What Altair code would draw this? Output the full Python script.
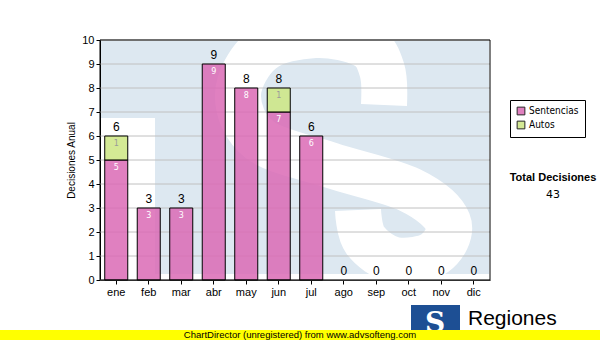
import altair as alt
import pandas as pd

# ---------------- data ----------------
months = ["ene", "feb", "mar", "abr", "may", "jun", "jul", "ago", "sep", "oct", "nov", "dic"]
sentencias = [5, 3, 3, 9, 8, 7, 6, 0, 0, 0, 0, 0]
autos = [1, 0, 0, 0, 0, 1, 0, 0, 0, 0, 0, 0]
series_names = ["Sentencias", "Autos"]
y_ticks = [0, 1, 2, 3, 4, 5, 6, 7, 8, 9, 10]
y_title = "Decisiones Anual"
total_title = "Total Decisiones"
footer_text = "ChartDirector (unregistered) from www.advsofteng.com"
logo_text = "Regiones"

# decorative watermark (plot-area pixel units: 390 x 240, origin top-left)
wm_x0 = [1, 55]
wm_x1 = [389, 389]
wm_y0 = [1, 78]
wm_y1 = [78, 234]
s_path_x = [284, 282, 265, 215, 162, 138, 160, 230, 310, 348, 335, 295, 265, 258]
s_path_y = [65, 30, 5, -5, 10, 55, 100, 125, 150, 182, 213, 220, 200, 170]

PINK = "#db6ab5"
GREEN = "#cde683"
W, H = 390, 240

# ---------------- tables ----------------
rows = []
for i, m in enumerate(months):
    rows.append({"mes": m, "serie": series_names[0], "valor": sentencias[i], "orden": 0,
                 "tope": sentencias[i]})
    rows.append({"mes": m, "serie": series_names[1], "valor": autos[i], "orden": 1,
                 "tope": sentencias[i] + autos[i]})
long_df = pd.DataFrame(rows)
tot_df = pd.DataFrame({"mes": months, "total": [s + a for s, a in zip(sentencias, autos)]})
grand_total = str(int(tot_df["total"].sum()))

wm_df = pd.DataFrame({"x0": wm_x0, "x1": wm_x1, "y0": wm_y0, "y1": wm_y1})
s_df = pd.DataFrame({"px": s_path_x, "py": s_path_y, "i": list(range(len(s_path_x)))})

sx = alt.Scale(domain=[0, W], nice=False, zero=False)
sy = alt.Scale(domain=[0, H], nice=False, zero=False, reverse=True)

# ---------------- background watermark ----------------
bg_rect = alt.Chart(wm_df).mark_rect(color="#dde8f1", clip=True).encode(
    x=alt.X("x0:Q", scale=sx, axis=None), x2="x1:Q",
    y=alt.Y("y0:Q", scale=sy, axis=None), y2="y1:Q",
)
bg_s = alt.Chart(s_df).mark_line(
    color="white", strokeWidth=46, interpolate="cardinal", strokeCap="butt",
    strokeJoin="round", clip=True
).encode(
    x=alt.X("px:Q", scale=sx, axis=None),
    y=alt.Y("py:Q", scale=sy, axis=None),
    order="i:Q",
)
bg = alt.layer(bg_rect, bg_s)

# ---------------- main chart ----------------
xs = alt.Scale(domain=months, paddingInner=0.292, paddingOuter=0.146)
ys = alt.Scale(domain=[0, 10], nice=False)

y_axis = alt.Axis(values=y_ticks, grid=False, domainColor="black", tickColor="black",
                  tickSize=4, labelFont="Liberation Sans", labelFontSize=11,
                  labelColor="black", labelPadding=2, titleFont="Liberation Sans",
                  titleFontSize=10, titleFontWeight="normal", titleColor="black",
                  titlePadding=5)
x_axis = alt.Axis(labelAngle=0, domainColor="black", tickColor="black", tickSize=4,
                  labelFont="Liberation Sans", labelFontSize=11, labelColor="black",
                  labelPadding=2, grid=False)

grid = alt.Chart(pd.DataFrame({"v": y_ticks})).mark_rule(color="#c0c0c0", strokeWidth=1).encode(
    y=alt.Y("v:Q", scale=ys, title=y_title, axis=y_axis)
)

bars = alt.Chart(long_df).transform_filter("datum.valor > 0").mark_bar(
    stroke="black", strokeWidth=1, fillOpacity=0.85
).encode(
    x=alt.X("mes:N", sort=months, scale=xs, title=None, axis=x_axis),
    y=alt.Y("valor:Q", stack="zero", scale=ys, title=y_title, axis=y_axis),
    color=alt.Color("serie:N", scale=alt.Scale(domain=series_names, range=[PINK, GREEN]),
                    legend=alt.Legend(title=None, orient="none", legendX=410, legendY=60,
                                      symbolType="square", symbolSize=60,
                                      symbolStrokeColor="black", symbolStrokeWidth=1,
                                      symbolOpacity=0.85,
                                      labelFont="DejaVu Sans Condensed", labelFontSize=10,
                                      labelColor="black", strokeColor="black",
                                      fillColor="white", padding=6, rowPadding=2,
                                      labelOffset=3)),
    order=alt.Order("orden:Q"),
)

totals = alt.Chart(tot_df).mark_text(
    baseline="bottom", dy=-2, font="Liberation Sans", fontSize=12, color="black"
).encode(
    x=alt.X("mes:N", sort=months, scale=xs, title=None, axis=x_axis),
    y=alt.Y("total:Q", scale=ys, title=y_title, axis=y_axis),
    text="total:Q",
)

inner = alt.Chart(long_df).transform_filter("datum.valor > 0").mark_text(
    baseline="top", dy=4, font="DejaVu Sans", fontSize=8
).encode(
    x=alt.X("mes:N", sort=months, scale=xs, title=None, axis=x_axis),
    y=alt.Y("tope:Q", scale=ys, title=y_title, axis=y_axis),
    text="valor:Q",
    color=alt.condition("datum.serie == 'Autos'", alt.value("#9a9a9a"), alt.value("white")),
)

one = pd.DataFrame({"t": [total_title], "n": [grand_total], "f": [footer_text], "r": [logo_text]})

frame = alt.Chart(one).mark_rect(fillOpacity=0, stroke="black", strokeWidth=1).encode(
    x=alt.value(0), x2=alt.value("width"), y=alt.value(0), y2=alt.value("height")
)

tot_title = alt.Chart(one).mark_text(
    font="Liberation Sans", fontSize=11, fontWeight="bold", color="black"
).encode(x=alt.value(453), y=alt.value(138), text="t:N")
tot_num = alt.Chart(one).mark_text(
    font="DejaVu Sans", fontSize=11, color="black"
).encode(x=alt.value(453), y=alt.value(155), text="n:N")

logo_box = alt.Chart(one).mark_rect(color="#1d4f94").encode(
    x=alt.value(311), x2=alt.value(360), y=alt.value(265), y2=alt.value(292)
)
logo_s = alt.Chart(one).mark_text(
    text="S", font="DejaVu Serif", fontSize=28, fontWeight="bold", color="white",
    baseline="alphabetic"
).encode(x=alt.value(335), y=alt.value(292))
logo_name = alt.Chart(one).mark_text(
    font="Liberation Sans", fontSize=21, color="black", align="left", baseline="alphabetic"
).encode(x=alt.value(368), y=alt.value(285), text="r:N")

footer_band = alt.Chart(one).mark_rect(color="#ffff00").encode(
    x=alt.value(-100), x2=alt.value(500), y=alt.value(290), y2=alt.value(300)
)
footer = alt.Chart(one).mark_text(
    font="Liberation Sans", fontSize=9.5, color="black", baseline="middle"
).encode(x=alt.value(200), y=alt.value(295), text="f:N")

main = alt.layer(grid, bars, totals, inner, frame, tot_title, tot_num,
                 logo_box, logo_s, logo_name, footer_band, footer)

chart = alt.layer(bg, main).resolve_scale(
    x="independent", y="independent"
).properties(
    width=W, height=H, autosize="none",
    padding={"left": 100, "top": 40, "right": 110, "bottom": 60},
    background="white",
).configure_view(strokeWidth=0)

chart.save("out.html", embed_options={"renderer": "svg", "actions": False})
